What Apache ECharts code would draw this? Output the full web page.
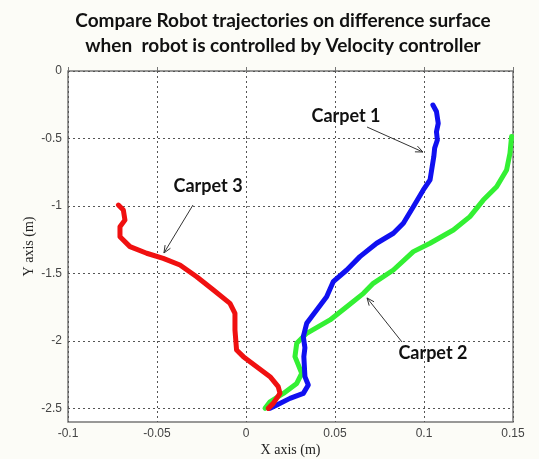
<!DOCTYPE html>
<html>
<head>
<meta charset="utf-8">
<script src="https://cdn.jsdelivr.net/npm/echarts@6/dist/echarts.min.js"></script>
<style>
html,body{margin:0;padding:0;background:#fcfcf7;}
#chart{width:539px;height:459px;}
</style>
</head>
<body>
<div id="chart"></div>
<script>
// Title
var titleLines = ['Compare Robot trajectories on difference surface', 'when  robot is controlled by Velocity controller'];
var xAxisName = 'X axis (m)';
var yAxisName = 'Y axis (m)';

// Ticks
var xTicks = [-0.1, -0.05, 0, 0.05, 0.1, 0.15];
var yTicks = [0, -0.5, -1, -1.5, -2, -2.5];

// Carpet 1 (blue)
var carpet1X = [0.105, 0.107, 0.108, 0.107, 0.1075, 0.106, 0.1055, 0.1034, 0.0996, 0.094, 0.0884, 0.0828, 0.0734, 0.064, 0.0566, 0.049, 0.0453, 0.0397, 0.0341, 0.0322, 0.0331, 0.0325, 0.0331, 0.035, 0.0322, 0.0247, 0.0173, 0.0135];
var carpet1Y = [-0.252, -0.3, -0.388, -0.45, -0.511, -0.57, -0.635, -0.807, -0.881, -1.005, -1.128, -1.202, -1.276, -1.375, -1.474, -1.561, -1.672, -1.770, -1.869, -1.968, -2.05, -2.116, -2.264, -2.326, -2.388, -2.425, -2.474, -2.499];

// Carpet 2 (green)
var carpet2X = [0.1492, 0.1483, 0.1464, 0.1408, 0.1333, 0.1258, 0.1165, 0.1034, 0.094, 0.0828, 0.0715, 0.066, 0.0566, 0.0472, 0.0341, 0.0285, 0.0275, 0.0313, 0.0285, 0.021, 0.0135, 0.0107];
var carpet2Y = [-0.486, -0.61, -0.733, -0.857, -0.956, -1.079, -1.178, -1.276, -1.338, -1.474, -1.573, -1.647, -1.746, -1.844, -1.943, -2.017, -2.116, -2.24, -2.314, -2.388, -2.45, -2.499];

// Carpet 3 (red)
var carpet3X = [-0.0717, -0.0689, -0.068, -0.0708, -0.0708, -0.0652, -0.0558, -0.0465, -0.0371, -0.0277, -0.0183, -0.009, -0.0062, -0.0062, -0.0053, -0.0015, 0.006, 0.0135, 0.0181, 0.0191, 0.0153, 0.0125];
var carpet3Y = [-0.993, -1.03, -1.104, -1.153, -1.227, -1.301, -1.35, -1.388, -1.437, -1.524, -1.622, -1.721, -1.795, -1.919, -2.067, -2.116, -2.19, -2.264, -2.338, -2.388, -2.462, -2.499];

// Annotations (data coordinates)
var annoNames = ['Carpet 1', 'Carpet 2', 'Carpet 3'];
var annoLabelPos = [[0.0562, -0.333], [0.105, -2.089], [-0.0213, -0.852]];
var annoArrowFrom = [[0.068, -0.415], [0.0876, -2.007], [-0.0298, -0.993]];
var annoArrowTo = [[0.0994, -0.6], [0.068, -1.681], [-0.0461, -1.348]];

function zip(xs, ys) { return xs.map(function (v, i) { return [v, ys[i]]; }); }

var chart = echarts.init(document.getElementById('chart'), null, {renderer: 'canvas'});

var gridLineStyle = {color: '#555', width: 1, type: [2, 3]};
var labelStyle = {color: '#444', fontFamily: 'Liberation Sans, Arial', fontSize: 12};

var option = {
  backgroundColor: '#fcfcf7',
  animation: false,
  grid: {left: 68, right: 26, top: 71, bottom: 37, show: true, backgroundColor: '#ffffff', borderColor: '#777', borderWidth: 1.5,
    containLabel: false, outerBoundsMode: 'none'},
  xAxis: {
    type: 'value', min: -0.1, max: 0.15, interval: 0.05,
    name: xAxisName, nameLocation: 'middle', nameGap: 21, nameMoveOverlap: false,
    nameTextStyle: {fontFamily: 'Liberation Serif', fontSize: 14, color: '#222'},
    axisLine: {show: false},
    axisTick: {show: true, inside: true, length: 4, lineStyle: {color: '#777'}},
    axisLabel: {margin: 6, color: labelStyle.color, fontFamily: labelStyle.fontFamily, fontSize: labelStyle.fontSize,
      formatter: function (v) { return String(Math.round(v * 1000) / 1000); }},
    splitLine: {show: true, lineStyle: gridLineStyle}
  },
  yAxis: {
    type: 'value', min: -2.6, max: 0,
    name: yAxisName, nameLocation: 'middle', nameGap: 32, nameMoveOverlap: false,
    nameTextStyle: {fontFamily: 'Liberation Serif', fontSize: 14, color: '#222'},
    axisLine: {show: false},
    axisTick: {show: true, inside: true, length: 4, lineStyle: {color: '#777'}, customValues: yTicks},
    axisLabel: {margin: 6, color: labelStyle.color, fontFamily: labelStyle.fontFamily, fontSize: labelStyle.fontSize, customValues: yTicks},
    splitLine: {show: true, lineStyle: gridLineStyle}
  },
  series: [
    {name: 'Carpet 1', type: 'line', data: zip(carpet1X, carpet1Y), showSymbol: false, smooth: false,
      lineStyle: {color: '#1010f0', width: 5, join: 'round', cap: 'round'}, z: 3},
    {name: 'Carpet 2', type: 'line', data: zip(carpet2X, carpet2Y), showSymbol: false, smooth: false,
      lineStyle: {color: '#33f033', width: 5, join: 'round', cap: 'round'}, z: 2},
    {name: 'Carpet 3', type: 'line', data: zip(carpet3X, carpet3Y), showSymbol: false, smooth: false,
      lineStyle: {color: '#f01010', width: 5, join: 'round', cap: 'round'}, z: 4}
  ]
};
chart.setOption(option);

var graphics = titleLines.map(function (t, i) {
  return {type: 'text', x: 283, y: 21 + i * 25, style: {text: t, textAlign: 'center', textVerticalAlign: 'middle',
    font: 'bold 19px Lato', fill: '#111'}};
});
annoNames.forEach(function (n, i) {
  var p = chart.convertToPixel({gridIndex: 0}, annoLabelPos[i]);
  graphics.push({type: 'text', x: p[0], y: p[1], z: 10, style: {text: n, textAlign: 'center', textVerticalAlign: 'middle',
    font: 'bold 18px Lato', fill: '#111'}});
  var a = chart.convertToPixel({gridIndex: 0}, annoArrowFrom[i]);
  var b = chart.convertToPixel({gridIndex: 0}, annoArrowTo[i]);
  var ang = Math.atan2(b[1] - a[1], b[0] - a[0]);
  var hl = 8, hw = 0.4;
  var h1 = [b[0] - hl * Math.cos(ang - hw), b[1] - hl * Math.sin(ang - hw)];
  var h2 = [b[0] - hl * Math.cos(ang + hw), b[1] - hl * Math.sin(ang + hw)];
  graphics.push({type: 'line', z: 10, shape: {x1: a[0], y1: a[1], x2: b[0], y2: b[1]}, style: {stroke: '#333', lineWidth: 1}});
  graphics.push({type: 'polyline', z: 10, shape: {points: [h1, b, h2]}, style: {stroke: '#333', lineWidth: 1, fill: null}});
});
chart.setOption({graphic: graphics});
</script>
</body>
</html>
